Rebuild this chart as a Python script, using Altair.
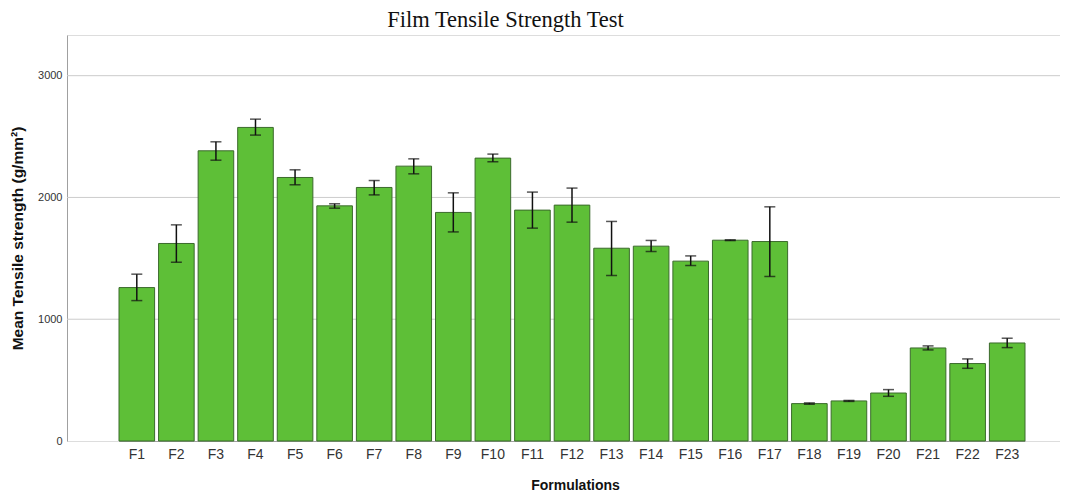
import altair as alt
import pandas as pd

categories = ["F1", "F2", "F3", "F4", "F5", "F6", "F7", "F8", "F9", "F10", "F11", "F12",
              "F13", "F14", "F15", "F16", "F17", "F18", "F19", "F20", "F21", "F22", "F23"]
means = [1260, 1622, 2383, 2575, 2164, 1931, 2082, 2257, 1877, 2323, 1896, 1937,
         1583, 1600, 1477, 1649, 1638, 307, 329, 394, 764, 636, 805]
lower = [1153, 1468, 2306, 2512, 2104, 1912, 2021, 2194, 1717, 2293, 1748, 1797,
         1359, 1556, 1441, 1646, 1351, 302, 325, 367, 748, 597, 767]
upper = [1370, 1775, 2457, 2643, 2227, 1948, 2139, 2317, 2038, 2356, 2044, 2077,
         1803, 1647, 1520, 1652, 1923, 313, 333, 422, 781, 674, 844]
y_ticks = [0, 1000, 2000, 3000]
grid_values = [1000, 2000, 3000]

df = pd.DataFrame({"cat": categories, "mean": means, "lo": lower, "hi": upper})
gdf = pd.DataFrame({"g": grid_values})

xscale = alt.Scale(domain=categories, paddingInner=0.1, paddingOuter=0, range=[52, 958])
yscale = alt.Scale(domain=[0, 3334], nice=False)

x_axis = alt.Axis(title="Formulations", labelAngle=0, labelFont="Liberation Sans",
                  labelFontSize=14, labelColor="#333333", labelPadding=6,
                  tickSize=0, domainColor="#a0a0a0", titleFont="Liberation Sans",
                  titleFontSize=14, titleFontWeight="bold", titleColor="#111111",
                  titlePadding=17, titleX=508, grid=False)
y_axis = alt.Axis(title="Mean Tensile strength (g/mm²)", values=y_ticks, grid=False,
                  format="d", tickSize=0, labelPadding=5,
                  labelFont="Liberation Sans", labelFontSize=11, labelColor="#333333",
                  domainColor="#a0a0a0", titleFont="Liberation Sans", titleFontSize=15.5,
                  titleFontWeight="bold", titleColor="#111111", titlePadding=12)

grid = alt.Chart(gdf).mark_rule(color="#cccccc", strokeWidth=1).encode(
    y=alt.Y("g:Q", scale=yscale, axis=y_axis), x=alt.value(0), x2=alt.value(993))

bars = alt.Chart(df).mark_bar(color="#5EBF37", stroke="#3b6a2c", strokeWidth=1).encode(
    x=alt.X("cat:N", scale=xscale, sort=categories, axis=x_axis),
    y=alt.Y("mean:Q", scale=yscale, axis=y_axis))

rules = alt.Chart(df).mark_rule(color="#111111", strokeWidth=1.5).encode(
    x=alt.X("cat:N", scale=xscale, sort=categories),
    y=alt.Y("lo:Q", scale=yscale), y2="hi:Q")

caps_lo = alt.Chart(df).mark_tick(color="#111111", thickness=1.5, size=11).encode(
    x=alt.X("cat:N", scale=xscale, sort=categories),
    y=alt.Y("lo:Q", scale=yscale))
caps_hi = alt.Chart(df).mark_tick(color="#111111", thickness=1.5, size=11).encode(
    x=alt.X("cat:N", scale=xscale, sort=categories),
    y=alt.Y("hi:Q", scale=yscale))

chart = alt.layer(grid, bars, rules, caps_lo, caps_hi).properties(
    width=993, height=406,
    title=alt.TitleParams("Film Tensile Strength Test", font="Liberation Serif", fontSize=22.5,
                          fontWeight="normal", color="#111111", anchor="middle", dx=-58, offset=4),
    autosize=alt.AutoSizeParams(type="none"),
    padding={"left": 59, "top": 27, "right": 0, "bottom": 55},
).configure_view(stroke=None).configure(background="white")

chart.save("out.html", embed_options={"renderer": "svg", "actions": False})
